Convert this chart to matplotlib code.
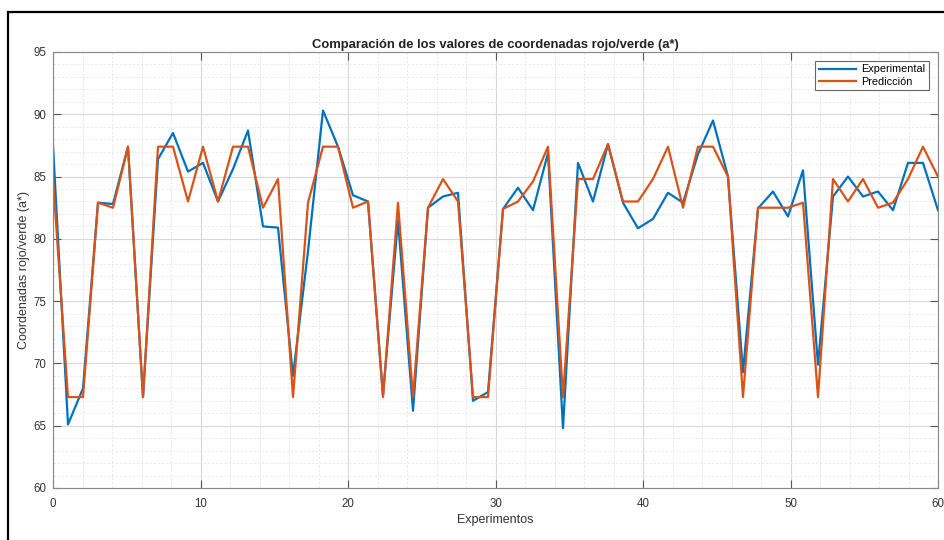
import numpy as np
import matplotlib
matplotlib.use("Agg")
import matplotlib.pyplot as plt
from matplotlib.patches import Rectangle
from matplotlib.ticker import MultipleLocator

plt.rcParams["font.family"] = ["Liberation Sans", "DejaVu Sans"]

experimental = [
    87.5, 65.1, 68.0, 82.9, 82.8, 87.4, 67.3, 86.4, 88.5, 85.4,
    86.1, 83.0, 85.6, 88.7, 81.0, 80.9, 69.0, 79.0, 90.3, 87.4,
    83.5, 83.0, 67.4, 81.5, 66.2, 82.5, 83.4, 83.7, 67.0, 67.7,
    82.4, 84.1, 82.3, 86.9, 64.8, 86.1, 83.0, 87.6, 82.9, 80.85,
    81.6, 83.7, 82.9, 86.8, 89.5, 85.0, 69.3, 82.45, 83.8, 81.8,
    85.5, 69.9, 83.4, 85.0, 83.4, 83.8, 82.3, 86.1, 86.1, 82.3,
]
prediccion = [
    84.8, 67.3, 67.3, 82.9, 82.5, 87.4, 67.3, 87.4, 87.4, 83.0,
    87.4, 83.0, 87.4, 87.4, 82.5, 84.8, 67.3, 82.9, 87.4, 87.4,
    82.5, 83.0, 67.3, 82.9, 67.3, 82.5, 84.8, 83.0, 67.3, 67.3,
    82.4, 83.0, 84.6, 87.4, 67.3, 84.8, 84.8, 87.6, 83.0, 83.0,
    84.8, 87.4, 82.5, 87.4, 87.4, 85.0, 67.3, 82.5, 82.5, 82.5,
    82.9, 67.3, 84.8, 83.0, 84.8, 82.5, 82.9, 84.8, 87.4, 85.0,
]
series_labels = ["Experimental", "Predicción"]
x_ticks = [0, 10, 20, 30, 40, 50, 60]
y_ticks = [60, 65, 70, 75, 80, 85, 90, 95]

experimentos = np.linspace(0, 60, len(experimental))

fig = plt.figure(figsize=(9.44, 5.4), dpi=100)
ax = fig.add_axes([53 / 944, 1 - 488 / 540, 885 / 944, 436 / 540])

# screenshot frame (only top and left edges visible)
fig.patches.append(Rectangle((8 / 944, -0.2), 2.0, 1.2 - 12 / 540,
                             transform=fig.transFigure, fill=False,
                             edgecolor="black", lw=1.6))

ax.plot(experimentos, experimental, color="#0072BD", lw=1.6, label=series_labels[0])
ax.plot(experimentos, prediccion, color="#D95319", lw=1.6, label=series_labels[1])

ax.set_xlim(0, 60)
ax.set_ylim(60, 95)
ax.set_xticks(x_ticks)
ax.set_yticks(y_ticks)
ax.xaxis.set_minor_locator(MultipleLocator(2))
ax.yaxis.set_minor_locator(MultipleLocator(1))

ax.grid(which="major", color="#d8d8d8", lw=0.8)
ax.grid(which="minor", color="#e8e8e8", lw=0.6, linestyle=(0, (3, 2)))
ax.set_axisbelow(True)

ax.tick_params(which="major", direction="in", length=6, width=0.8,
               top=True, right=True, colors="#555555", labelcolor="#333333",
               labelsize=8.3, pad=5)
ax.tick_params(axis="x", which="major", pad=7)
ax.tick_params(which="minor", length=0)
for s in ax.spines.values():
    s.set_color("#888888")
    s.set_linewidth(0.8)

ax.set_title("Comparación de los valores de coordenadas rojo/verde (a*)",
             fontsize=9.4, fontweight="bold", color="#222222", pad=3)
ax.set_xlabel("Experimentos", fontsize=9, color="#333333", labelpad=3)
ax.set_ylabel("Coordenadas rojo/verde (a*)", fontsize=9, color="#333333", labelpad=2)

leg = ax.legend(loc="upper right", fontsize=7.8, handlelength=3.4,
                fancybox=False, framealpha=1, edgecolor="#666666",
                borderpad=0.35, labelspacing=0.2, handletextpad=0.5,
                borderaxespad=0.8)
leg.get_frame().set_linewidth(0.8)

fig.savefig("out.png", dpi=100)
